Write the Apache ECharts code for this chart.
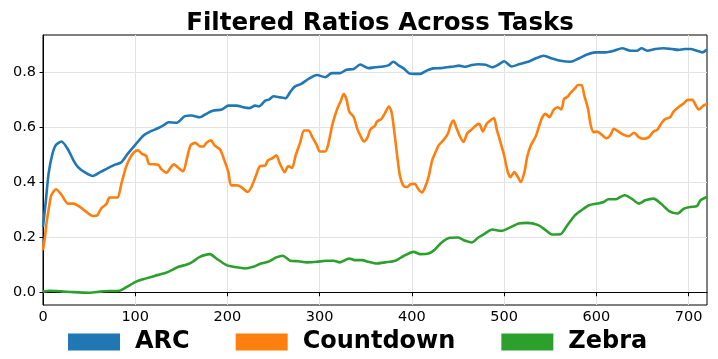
<!DOCTYPE html>
<html>
<head>
<meta charset="utf-8">
<script src="https://cdn.jsdelivr.net/npm/echarts@6/dist/echarts.min.js"></script>
<style>html,body{margin:0;padding:0;background:#fff}#c{width:718px;height:359px}</style>
</head>
<body>
<div id="c"></div>
<script>
var arcSteps = [0,3,6,10,14,20,27,33,38,45,54,62,69,78,85,92,100,109,116,124,131,136,145,154,161,170,179,185,194,201,210,217,224,230,234,241,245,250,257,263,268,273,280,288,297,306,313,322,329,337,344,353,360,369,375,380,385,391,397,403,409,416,423,431,438,445,451,458,465,472,480,487,494,500,508,517,526,534,543,552,561,572,581,590,599,610,619,628,637,644,649,655,664,673,682,689,696,702,709,715,720];
var arcValues = [0.239,0.33,0.43,0.50,0.535,0.548,0.52,0.48,0.455,0.437,0.423,0.437,0.449,0.464,0.473,0.504,0.536,0.57,0.584,0.595,0.607,0.618,0.616,0.64,0.642,0.636,0.652,0.66,0.664,0.678,0.678,0.672,0.669,0.678,0.675,0.696,0.70,0.712,0.708,0.705,0.727,0.747,0.757,0.775,0.789,0.781,0.796,0.796,0.808,0.811,0.827,0.814,0.817,0.82,0.825,0.837,0.825,0.813,0.795,0.793,0.793,0.805,0.813,0.814,0.817,0.82,0.823,0.819,0.825,0.828,0.826,0.817,0.827,0.839,0.82,0.829,0.837,0.849,0.859,0.849,0.841,0.837,0.849,0.863,0.871,0.871,0.877,0.886,0.877,0.877,0.886,0.877,0.883,0.886,0.883,0.88,0.883,0.883,0.877,0.871,0.881];

var countdownSteps = [0,2,4,7,9,14,20,27,33,40,47,54,59,63,69,72,78,81,85,90,94,99,103,107,112,115,125,128,134,138,142,147,152,156,160,165,170,174,177,182,186,192,196,201,204,210,215,222,226,231,235,241,244,249,253,257,262,266,270,274,279,283,288,292,297,300,306,309,314,319,323,326,329,332,337,341,344,348,352,355,360,362,367,371,375,378,381,384,387,391,395,398,403,407,411,414,418,422,425,429,434,439,442,445,448,452,456,460,465,470,473,477,481,485,489,492,496,500,504,507,511,515,518,522,525,529,534,537,541,545,549,554,558,562,565,569,572,577,580,584,587,591,594,597,601,606,611,615,619,624,630,635,641,646,651,657,662,666,671,675,680,684,689,695,699,704,708,711,716,720];
var countdownValues = [0.154,0.2,0.257,0.32,0.353,0.375,0.355,0.323,0.323,0.311,0.293,0.278,0.281,0.305,0.323,0.345,0.345,0.345,0.395,0.455,0.486,0.51,0.516,0.504,0.495,0.467,0.464,0.449,0.435,0.452,0.465,0.452,0.44,0.486,0.534,0.543,0.531,0.53,0.543,0.552,0.534,0.519,0.486,0.437,0.389,0.389,0.383,0.365,0.383,0.425,0.458,0.461,0.48,0.488,0.498,0.467,0.437,0.459,0.452,0.498,0.546,0.588,0.588,0.564,0.534,0.512,0.512,0.534,0.612,0.666,0.696,0.72,0.702,0.657,0.636,0.592,0.57,0.548,0.564,0.592,0.605,0.62,0.63,0.652,0.675,0.654,0.582,0.498,0.425,0.387,0.383,0.392,0.395,0.375,0.363,0.38,0.419,0.48,0.504,0.534,0.552,0.576,0.608,0.624,0.6,0.567,0.546,0.578,0.592,0.608,0.612,0.584,0.612,0.624,0.633,0.592,0.546,0.498,0.437,0.419,0.437,0.419,0.401,0.437,0.492,0.534,0.564,0.594,0.633,0.648,0.636,0.664,0.672,0.664,0.702,0.711,0.724,0.741,0.753,0.753,0.714,0.666,0.606,0.582,0.584,0.572,0.56,0.57,0.594,0.584,0.572,0.567,0.58,0.564,0.558,0.564,0.584,0.59,0.616,0.63,0.636,0.657,0.672,0.687,0.699,0.699,0.678,0.664,0.678,0.684];

var zebraSteps = [0,7,20,33,51,62,72,83,90,101,112,121,134,147,156,163,170,181,188,199,210,219,228,235,244,253,260,268,277,286,297,307,315,322,332,338,346,353,362,371,382,391,402,409,418,425,432,441,450,458,465,472,479,487,497,506,516,525,537,545,552,561,568,577,584,592,601,608,613,621,626,631,639,646,653,662,670,679,688,695,702,709,713,720];
var zebraValues = [0.004,0.007,0.005,0.002,0.0,0.004,0.006,0.007,0.019,0.04,0.052,0.061,0.073,0.094,0.102,0.114,0.13,0.14,0.124,0.1,0.092,0.088,0.094,0.104,0.112,0.128,0.134,0.116,0.114,0.11,0.112,0.116,0.116,0.11,0.124,0.118,0.118,0.112,0.106,0.11,0.116,0.133,0.148,0.14,0.142,0.157,0.181,0.199,0.2,0.188,0.182,0.2,0.214,0.229,0.224,0.236,0.251,0.253,0.245,0.227,0.211,0.212,0.242,0.281,0.299,0.317,0.323,0.329,0.339,0.339,0.347,0.353,0.339,0.323,0.335,0.341,0.323,0.296,0.287,0.305,0.311,0.314,0.335,0.347];

var seriesNames = ['ARC', 'Countdown', 'Zebra'];
var xTicks = [0, 100, 200, 300, 400, 500, 600, 700];
var yTicks = [0.0, 0.2, 0.4, 0.6, 0.8];
var titleText = 'Filtered Ratios Across Tasks';

function pairs(xs, ys) { return xs.map(function (x, i) { return [x, ys[i]]; }); }

var colors = ['#1f77b4', '#ff7f0e', '#2ca02c'];
var font = 'DejaVu Sans';
var chart = echarts.init(document.getElementById('c'), null, { renderer: 'canvas' });
var lineW = 2.6;
chart.setOption({
  animation: false,
  color: colors,
  title: {
    text: titleText, left: 375, top: 6, textAlign: 'center',
    textStyle: { fontFamily: font, fontSize: 24.5, fontWeight: 'bold', color: '#000' }
  },
  grid: { left: 43, right: 11, top: 35, bottom: 54, show: true, borderColor: '#000', borderWidth: 1, backgroundColor: 'transparent' },
  xAxis: {
    type: 'value', min: 0, max: 720,
    axisLine: { show: true, lineStyle: { color: '#000', width: 1 } },
    axisTick: { show: true, inside: false, length: 3.5, customValues: xTicks, lineStyle: { color: '#000' } },
    axisLabel: { customValues: xTicks, margin: 5, fontFamily: font, fontSize: 14.5, color: '#000', formatter: function (v) { return String(v); } },
    splitLine: { show: true, lineStyle: { color: '#e3e3e3', width: 1 } }
  },
  yAxis: {
    type: 'value', min: -0.0445, max: 0.934,
    axisLine: { show: true, lineStyle: { color: '#000', width: 1 } },
    axisTick: { show: true, inside: false, length: 3.5, customValues: yTicks, lineStyle: { color: '#000' } },
    axisLabel: { customValues: yTicks, margin: 7, fontFamily: font, fontSize: 14.5, color: '#000', formatter: function (v) { return v.toFixed(1); } },
    splitLine: { show: true, lineStyle: { color: '#e3e3e3', width: 1 } }
  },
  legend: {
    data: seriesNames, left: 63, top: 325, icon: 'rect', itemWidth: 52, itemHeight: 17, itemGap: 46,
    textStyle: { fontFamily: font, fontSize: 24, fontWeight: 'bold', color: '#000', padding: [0, 0, 0, 10] }
  },
  series: [
    { name: seriesNames[0], type: 'line', data: pairs(arcSteps, arcValues), showSymbol: false, smooth: 0.25, lineStyle: { width: lineW } },
    { name: seriesNames[1], type: 'line', data: pairs(countdownSteps, countdownValues), showSymbol: false, smooth: 0.25, lineStyle: { width: lineW } },
    { name: seriesNames[2], type: 'line', data: pairs(zebraSteps, zebraValues), showSymbol: false, smooth: 0.25, lineStyle: { width: lineW } }
  ]
});
</script>
</body>
</html>
